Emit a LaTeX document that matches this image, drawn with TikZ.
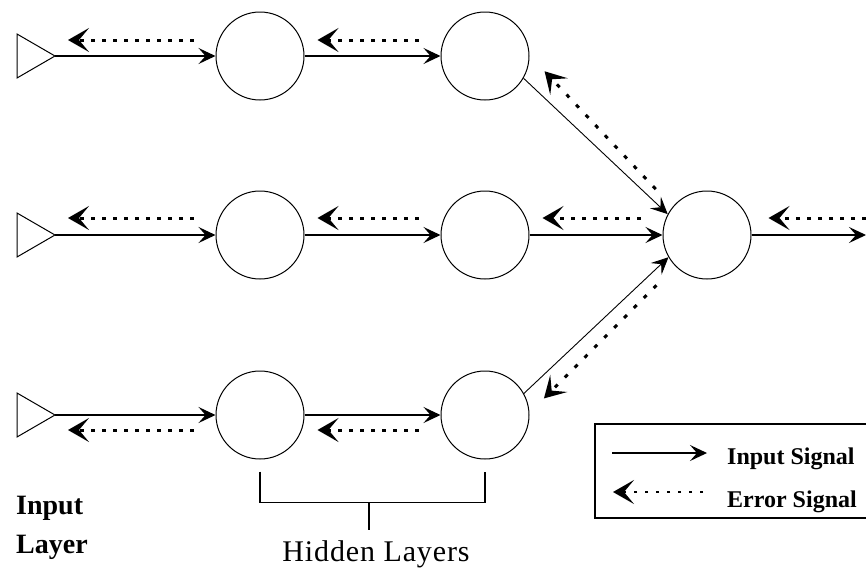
\documentclass[tikz,border=0pt]{standalone}
\usepackage{fontspec}
\setmainfont{Liberation Serif}
\newfontfamily\hidfont[LetterSpace=3]{Liberation Serif}
\usetikzlibrary{arrows.meta}

\begin{document}
\begin{tikzpicture}[x=1pt,y=-1pt,
  neuron/.style={circle,draw,line width=1pt,minimum size=88pt,inner sep=0pt},
  inputcell/.style={draw,line width=1pt},
  sig/.style={line width=1.2pt,-{Stealth[length=17pt,width=16pt,inset=7pt]}},
  err/.style={line width=3pt,dash pattern=on 4pt off 7pt,
    shorten <=22pt,shorten >=13pt,
    -{Stealth[length=21pt,width=24pt,inset=10pt]}},
  diagerr/.style={err,dash pattern=on 4pt off 10pt,shorten <=0pt,shorten >=0pt},
  lbl/.style={inner sep=0pt,anchor=base west}]

\useasboundingbox (0,0) rectangle (866,568);
\clip (0,0) rectangle (866,568);

% input units (triangles) and their tips
\foreach \r/\y in {1/56,2/235,3/415}{
  \draw[inputcell] (17,\y-22) -- (55,\y) -- (17,\y+22) -- cycle;
  \coordinate (t\r) at (55,\y);
}

% hidden neurons
\node[neuron] (h11) at (260,56) {};
\node[neuron] (h12) at (485,56) {};
\node[neuron] (h21) at (260,235) {};
\node[neuron] (h22) at (485,235) {};
\node[neuron] (h31) at (260,415) {};
\node[neuron] (h32) at (485,415) {};
% output neuron
\node[neuron] (out) at (707,235) {};
\coordinate (o) at (866,235);

% forward (input) signals
\draw[sig] (t1) -- (h11);
\draw[sig] (h11) -- (h12);
\draw[sig] (t2) -- (h21);
\draw[sig] (h21) -- (h22);
\draw[sig] (h22) -- (out);
\draw[sig] (t3) -- (h31);
\draw[sig] (h31) -- (h32);
\draw[sig] (out) -- (o);
\draw[sig,line width=0.9pt] (h12.-30) -- (out.152);
\draw[sig,line width=0.9pt] (h32.29) -- (out.210);

% backward (error) signals
\draw[err] ([yshift=16pt]h11.west) -- ([yshift=16pt]t1);
\draw[err] ([yshift=16pt]h12.west) -- ([yshift=16pt]h11.east);
\draw[err] ([yshift=17pt]h21.west) -- ([yshift=17pt]t2);
\draw[err] ([yshift=17pt]h22.west) -- ([yshift=17pt]h21.east);
\draw[err] ([yshift=17pt]out.west) -- ([yshift=17pt]h22.east);
\draw[err,shorten <=0pt,shorten >=17pt] ([yshift=17pt]o) -- ([yshift=17pt]out.east);
\draw[err] ([yshift=-15pt]h31.west) -- ([yshift=-15pt]t3);
\draw[err] ([yshift=-15pt]h32.west) -- ([yshift=-15pt]h31.east);
\draw[diagerr] ([shift={(-12,-25)}]out.152) -- ([shift={(21,-7)}]h12.-30);
\draw[diagerr] ([shift={(-12,28)}]out.210) -- ([shift={(20,5)}]h32.29);

% bracket over the hidden layers
\coordinate (bl) at ([yshift=-12pt]h31.south);
\coordinate (br) at ([yshift=-12pt]h32.south);
\draw[line width=1.2pt] (bl) -- ++(0,31) -| (br);
\coordinate (bm) at (369,502);
\draw[line width=1.2pt] (bm) -- ++(0,28);

% labels
\node[lbl,font=\bfseries\fontsize{28}{28}\selectfont] (inlab1) at (16,514) {Input};
\node[lbl,font=\bfseries\fontsize{28}{28}\selectfont] (inlab2) at (16,553) {Layer};
\node[inner sep=0pt,anchor=base,font=\hidfont\fontsize{30}{30}\selectfont] (hid) at (376,561) {Hidden Layers};

% legend
\draw[line width=1.3pt] (880,424) -- (595,424) -- (595,518) -- (880,518);
\node[lbl,font=\bfseries\fontsize{24}{24}\selectfont] (legin) at (727,464) {Input Signal};
\node[lbl,font=\bfseries\fontsize{24}{24}\selectfont] (legerr) at (727,507) {Error Signal};
\coordinate (la) at (612,453);
\coordinate (lb) at (707,453);
\coordinate (lc) at (703,492);
\coordinate (ld) at (613,492);
\draw[sig] (la) -- (lb);
\draw[err,line width=2pt,dash pattern=on 3pt off 8pt,shorten <=0pt,shorten >=0pt] (lc) -- (ld);
\end{tikzpicture}
\end{document}
